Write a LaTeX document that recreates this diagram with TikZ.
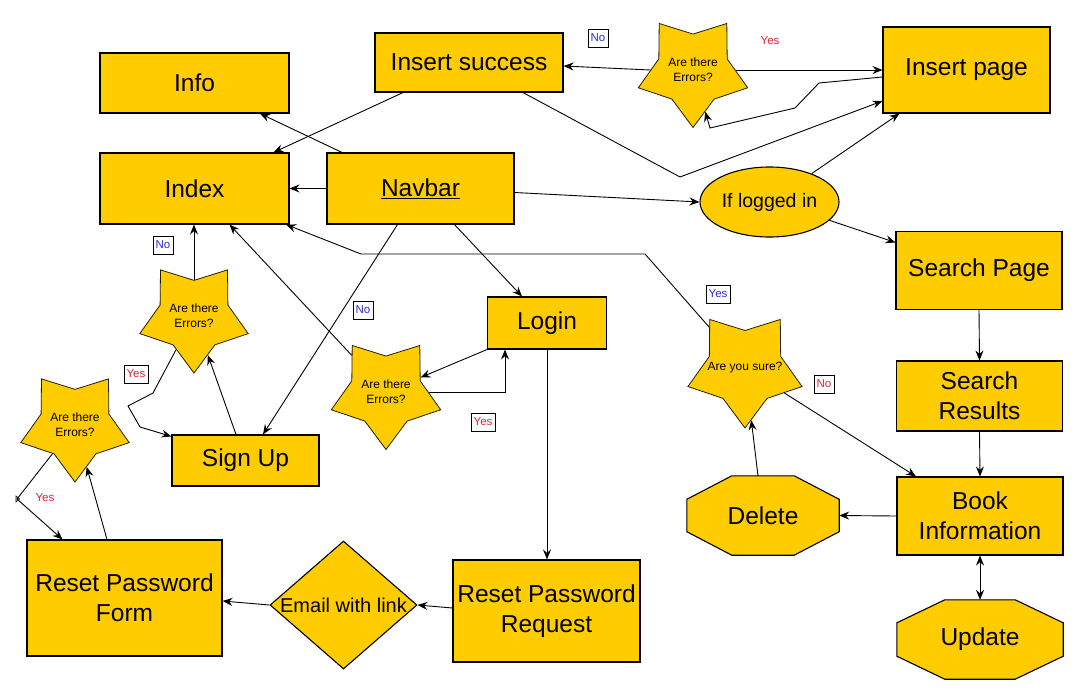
\documentclass[tikz,border=0pt]{standalone}
\usepackage{fontspec}
\setmainfont{Liberation Sans}
\usetikzlibrary{shapes.geometric,arrows.meta}
\definecolor{gold}{HTML}{FFCC00}
\definecolor{lblue}{HTML}{2B2BDD}
\definecolor{lred}{HTML}{E2203A}
\pgfdeclarelayer{bg}
\pgfsetlayers{bg,main}
\newcommand\drawocta[3]{% name, horizontal cut, vertical cut
  \begin{pgfonlayer}{bg}
  \filldraw[fill=gold, draw=black, line width=1.1pt]
    ([xshift=#2]#1.north west) -- ([xshift=-#2]#1.north east) --
    ([yshift=-#3]#1.north east) -- ([yshift=#3]#1.south east) --
    ([xshift=-#2]#1.south east) -- ([xshift=#2]#1.south west) --
    ([yshift=#3]#1.south west) -- ([yshift=-#3]#1.north west) -- cycle;
  \end{pgfonlayer}}
\begin{document}
\begin{tikzpicture}[x=1pt,y=-1pt,
  box/.style={draw=black, line width=1.1pt, fill=gold, inner sep=0pt, font=\fontsize{24.5}{30}\selectfont, align=center},
  octbox/.style={inner sep=0pt, font=\fontsize{24.5}{30}\selectfont, align=center},
  starnode/.style={star, star points=5, star point ratio=1.6, shape border rotate=180, minimum size=#1, inner sep=0pt, draw=black!85!gold, line width=0.8pt, fill=gold},
  startext/.style={font=\fontsize{12}{15}\selectfont, align=center, inner sep=0pt},
  arr/.style={-{Stealth[length=10pt,width=8pt,inset=3.5pt]}, line width=0.9pt},
  dblarr/.style={{Stealth[length=10pt,width=8pt,inset=3.5pt]}-{Stealth[length=10pt,width=8pt,inset=3.5pt]}, line width=0.9pt},
  lab/.style={draw=black, fill=white, line width=0.6pt, inner xsep=2.5pt, inner ysep=1pt, minimum height=18pt, font=\fontsize{11.5}{12}\selectfont},
  plainlab/.style={inner sep=0pt, font=\fontsize{11.5}{12}\selectfont}
]
\begin{pgfonlayer}{bg}
\fill[white] (0,0) rectangle (1078,694);
\end{pgfonlayer}
\useasboundingbox (0,0) rectangle (1078,694);

% boxes
\node[box, minimum width=189pt, minimum height=60pt] (info) at (194.5,83) {Info};
\node[box, minimum width=188pt, minimum height=59pt] (inssucc) at (469,62.5) {Insert success};
\node[box, minimum width=189pt, minimum height=71pt] (index) at (194.5,188.5) {Index};
\node[box, minimum width=187pt, minimum height=71pt] (navbar) at (420.5,188.5) {\underline{Navbar}};
\node[box, minimum width=167pt, minimum height=86pt] (inspage) at (966.5,70) {Insert page};
\node[box, ellipse, minimum width=139pt, minimum height=70pt, font=\fontsize{19.5}{24}\selectfont] (logged) at (769.5,202) {If logged in};
\node[box, minimum width=166pt, minimum height=78pt] (search) at (979,270.5) {Search Page};
\node[box, minimum width=166pt, minimum height=70pt] (results) at (979.5,396) {Search\\Results};
\node[box, minimum width=166pt, minimum height=78pt] (book) at (980,516) {Book\\Information};
\node[octbox, minimum width=152pt, minimum height=79pt] (delete) at (763,515.5) {Delete};
\drawocta{delete}{45pt}{23.5pt}
\node[octbox, minimum width=166pt, minimum height=79pt] (update) at (980,639.5) {Update};
\drawocta{update}{48pt}{23pt}
\node[box, minimum width=119pt, minimum height=52pt] (login) at (547,323) {Login};
\node[box, minimum width=147pt, minimum height=51pt] (signup) at (245.5,460.5) {Sign Up};
\node[box, minimum width=187pt, minimum height=102pt] (rpreq) at (546.5,611) {Reset Password\\Request};
\node[box, diamond, minimum width=147pt, minimum height=128pt] (email) at (343.5,605) {};
\node[font=\fontsize{20}{24}\selectfont, inner sep=0pt] (emailtxt) at (email.center) {Email with link};
\node[box, minimum width=195pt, minimum height=116pt] (rpform) at (124.5,598) {Reset Password\\Form};

% stars
\node[starnode=115pt] (starT) at (693,70) {};
\node[startext] (starTt) at (starT.center) {Are there\\Errors?};
\node[starnode=114pt] (star2) at (194,316) {};
\node[startext] (star2t) at (star2.center) {Are there\\Errors?};
\node[starnode=114pt] (star3) at (75,425) {};
\node[startext] (star3t) at (star3.center) {Are there\\Errors?};
\node[starnode=115pt] (star4) at (386,392) {};
\node[startext] (star4t) at (star4.center) {Are there\\Errors?};
\node[starnode=120pt] (star5) at (745,368) {};
\node[startext] (star5t) at (star5.center) {Are you sure?};

% connectors
\draw[arr] (starT.west) -- ([yshift=-3.5pt]inssucc.east);
\draw[arr] (starT.east) -- (inspage.west);
\draw[arr] ([yshift=-7pt]inspage.west) -- (819,83) -- (795,108) -- (710,128) -- (starT);
\draw[arr] ([xshift=54pt]inssucc.south) -- (680,177) -- ([yshift=-31pt]inspage.west);
\draw[arr] (logged.34) -- ([xshift=17pt]inspage.south west);
\draw[arr] (logged.-17) -- ([yshift=28pt]search.west);
\draw[arr] ([yshift=-4pt]navbar.east) -- (logged.west);
\draw[arr] (navbar.west) -- (index.east);
\draw[arr] ([xshift=-78.5pt]navbar.north) -- ([xshift=65.5pt]info.south);
\draw[arr] ([xshift=-66pt]inssucc.south) -- ([xshift=79pt]index.north);
\draw[arr] ([xshift=34pt]navbar.south) -- ([xshift=-25pt]login.north);
\draw[arr] ([xshift=-23pt]navbar.south) -- ([xshift=17.5pt]signup.north);
\draw[arr] (star5) -- (645,254) -- (361,254) -- (index);
\draw[arr] (star5) -- ([xshift=-64pt]book.north);
\draw[arr] ([xshift=-5pt]delete.north) -- (star5);
\draw[arr] (book.west) -- (delete.east);
\draw[dblarr] (book.south) -- (update.north);
\draw[arr] (search.south) -- (results.north);
\draw[arr] (results.south) -- (book.north);
\draw[arr] (login.south) -- (login.south |- rpreq.north);
\draw[arr] ([yshift=3pt]rpreq.west) -- (email.east);
\draw[arr] (email.west) -- ([yshift=-3pt]rpform.east);
\draw[arr] (login.south west) -- (star4);
\draw[arr] (star4.east) -| ([xshift=-42pt]login.south);
\draw[arr] (star4) -- ([xshift=35pt]index.south);
\draw[arr] (star2.north) -- (index.south -| star2.north);
\draw[arr] ([xshift=-9.5pt]signup.north) -- (star2);
\draw[arr] (star2) -- (153,393) -- (128,406) -- (140,427) -- ([yshift=-2pt]signup.north west);
\draw[arr] (star3) -- (17,499) -- ([xshift=-62pt]rpform.north);
\draw[line width=0.6pt] (16,496) -- (16,502) -- (19.5,499) -- cycle;
\draw[arr] ([xshift=-17.5pt]rpform.north) -- (star3);

% labels
\node[lab, text=lblue] (l1) at (598,38) {No};
\node[plainlab, text=lred] (l2) at (770,41) {Yes};
\node[lab, text=lblue] (l3) at (163,245) {No};
\node[lab, text=lred] (l4) at (136,374) {Yes};
\node[lab, text=lblue] (l5) at (363,310) {No};
\node[lab, text=lred] (l6) at (483,422) {Yes};
\node[lab, text=lblue] (l7) at (718,294) {Yes};
\node[lab, text=lred] (l8) at (824,384) {No};
\node[plainlab, text=lred] (l9) at (45,498) {Yes};
\end{tikzpicture}
\end{document}
